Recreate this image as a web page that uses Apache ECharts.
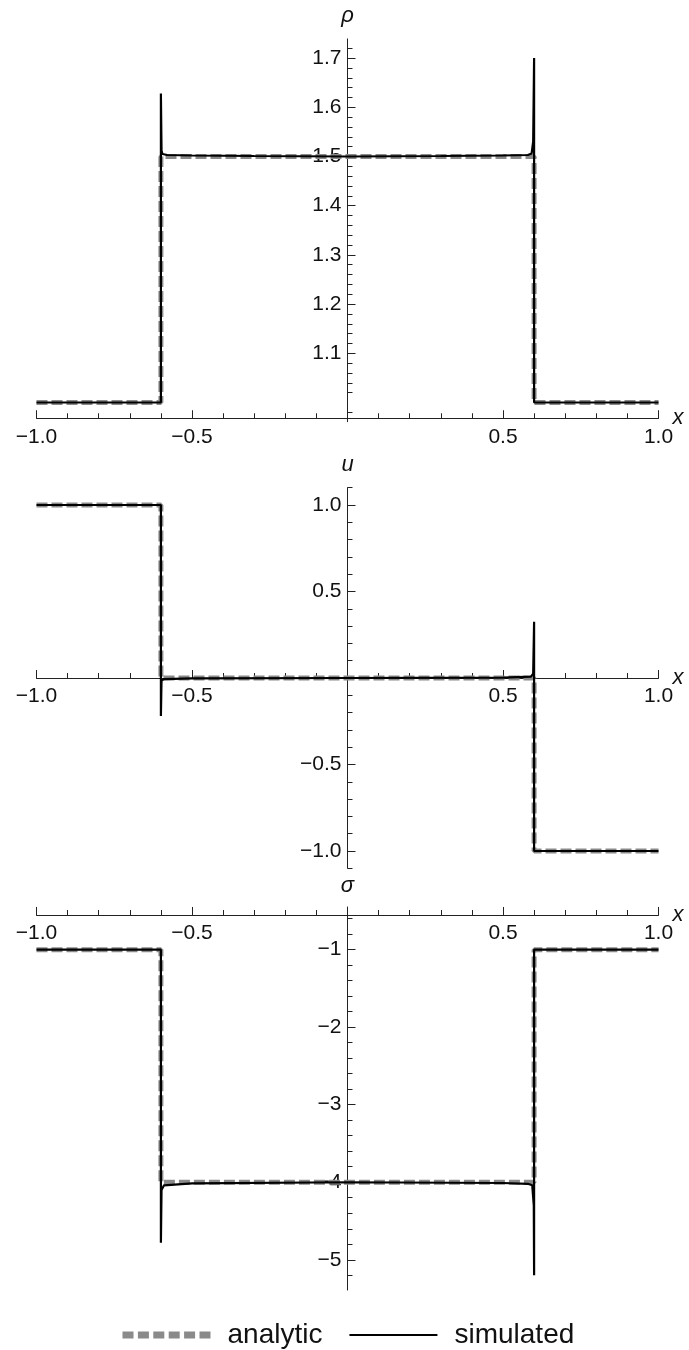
<!DOCTYPE html>
<html>
<head>
<meta charset="utf-8">
<script src="https://cdn.jsdelivr.net/npm/echarts@6.0.0/dist/echarts.min.js"></script>
<style>
  html, body { margin: 0; padding: 0; background: #fff; }
  #chart { width: 689px; height: 1350px; }
</style>
</head>
<body>
<div id="chart"></div>
<script>
// ---- shared x grid ----
const xRange = [-1, 1];

// ---- density rho ----
const rhoAnalyticX = [-1, -0.6, -0.6, 0.6, 0.6, 1];
const rhoAnalytic  = [1.0, 1.0, 1.5, 1.5, 1.0, 1.0];
const rhoSimX = [-1, -0.6, -0.6, -0.598, -0.595, -0.58, -0.5, -0.3, 0, 0.3, 0.5, 0.58, 0.592, 0.597, 0.6, 0.6, 1];
const rhoSim  = [1.0, 1.0, 1.628, 1.512, 1.505, 1.503, 1.502, 1.501, 1.5, 1.501, 1.502, 1.503, 1.506, 1.53, 1.70, 1.0, 1.0];
const rhoTicks = [1.1, 1.2, 1.3, 1.4, 1.5, 1.6, 1.7];

// ---- velocity u ----
const uAnalyticX = [-1, -0.6, -0.6, 0.6, 0.6, 1];
const uAnalytic  = [1, 1, 0, 0, -1, -1];
const uSimX = [-1, -0.6, -0.6, -0.598, -0.59, -0.5, 0, 0.5, 0.59, 0.597, 0.6, 0.6, 1];
const uSim  = [1, 1, -0.22, -0.015, -0.006, -0.002, 0, 0.002, 0.008, 0.025, 0.325, -1, -1];
const uTicks = [-1.0, -0.5, 0.5, 1.0];

// ---- stress sigma ----
const sigmaAnalyticX = [-1, -0.6, -0.6, 0.6, 0.6, 1];
const sigmaAnalytic  = [-1, -1, -4, -4, -1, -1];
const sigmaSimX = [-1, -0.6, -0.6, -0.598, -0.59, -0.5, 0, 0.5, 0.58, 0.594, 0.599, 0.6, 0.6, 1];
const sigmaSim  = [-1, -1, -4.78, -4.1, -4.04, -4.015, -4.0, -4.01, -4.02, -4.04, -4.3, -5.2, -1, -1];
const sigmaTicks = [-5, -4, -3, -2, -1];

const FONT = '"Liberation Sans", Arial, sans-serif';
const AXIS_COLOR = '#222';
const ANALYTIC_COLOR = '#8a8a8a';

// plot area geometry (pixels)
const GRID_LEFT = 36.5, GRID_RIGHT = 30.5, CHART_W = 689;
const GRID_W = CHART_W - GRID_LEFT - GRID_RIGHT;
// shift that puts the vertical axis at x = 0
const Y_AXIS_SHIFT = -GRID_W * (0 - xRange[0]) / (xRange[1] - xRange[0]);

function pairs(xs, ys) { return xs.map((x, i) => [x, ys[i]]); }

// minor tick positions between lo and hi with given step, skipping majors
function minorValues(lo, hi, step, majorStep) {
  const out = [];
  const n0 = Math.ceil(lo / step - 1e-9), n1 = Math.floor(hi / step + 1e-9);
  for (let n = n0; n <= n1; n++) {
    const v = +(n * step).toFixed(6);
    const r = v / majorStep;
    if (Math.abs(r - Math.round(r)) > 1e-6) out.push(v);
  }
  return out;
}

function fmt(v, digits) {
  return v.toFixed(digits).replace('-', '\u2212');
}

const panels = [
  { name: '\u03c1', top: 38.9, height: 382.8, min: 0.961, max: 1.739,
    ticks: rhoTicks, minor: minorValues(0.961, 1.739, 0.02, 0.1), digits: 1,
    xPos: 'bottom', xAt: 0.968, nameGap: 12,
    ana: pairs(rhoAnalyticX, rhoAnalytic), sim: pairs(rhoSimX, rhoSim) },
  { name: 'u', top: 487.7, height: 380.6, min: -1.1, max: 1.1,
    ticks: uTicks, minor: minorValues(-1.1, 1.1, 0.1, 0.5).concat([0]), digits: 1,
    xPos: 'bottom', xAt: 0, nameGap: 12,
    ana: pairs(uAnalyticX, uAnalytic), sim: pairs(uSimX, uSim) },
  { name: '\u03c3', top: 907, height: 383, min: -5.39, max: -0.45,
    ticks: sigmaTicks, minor: minorValues(-5.39, -0.45, 0.2, 1), digits: 0,
    xPos: 'top', xAt: -0.553, nameGap: 10,
    ana: pairs(sigmaAnalyticX, sigmaAnalytic), sim: pairs(sigmaSimX, sigmaSim) }
];

const grid = [], xAxis = [], yAxis = [], series = [];

panels.forEach((p, i) => {
  grid.push({ left: GRID_LEFT, right: GRID_RIGHT, top: p.top, height: p.height,
              containLabel: false, outerBoundsMode: 'none' });

  // distance of the horizontal axis from the grid edge it is attached to
  const span = p.max - p.min;
  const xShift = p.xPos === 'bottom'
    ? -p.height * (p.xAt - p.min) / span
    : -p.height * (p.max - p.xAt) / span;

  xAxis.push({
    type: 'value', gridIndex: i, min: xRange[0], max: xRange[1], interval: 0.5,
    position: p.xPos, offset: xShift,
    name: 'x', nameLocation: 'end', nameGap: 14, nameMoveOverlap: false,
    nameTextStyle: { fontFamily: FONT, fontSize: 22, fontStyle: 'italic', color: '#111',
                     verticalAlign: 'middle', padding: [8, 0, 0, 0] },
    axisLine: { show: true, onZero: false, lineStyle: { color: AXIS_COLOR, width: 1 } },
    axisTick: { show: true, inside: p.xPos === 'bottom', length: 8, lineStyle: { color: AXIS_COLOR } },
    minorTick: { show: true, splitNumber: 5, length: 5, lineStyle: { color: AXIS_COLOR } },
    axisLabel: { show: true, inside: p.xPos === 'top', margin: 8, fontFamily: FONT, fontSize: 21, color: '#111',
                 formatter: v => (Math.abs(v) < 1e-9 ? '' : fmt(v, 1)) },
    splitLine: { show: false }, minorSplitLine: { show: false }
  });

  // main vertical axis: line, major ticks, labels, name
  yAxis.push({
    type: 'value', gridIndex: i, min: p.min, max: p.max, position: 'left', offset: Y_AXIS_SHIFT,
    name: p.name, nameLocation: 'end', nameGap: p.nameGap, nameMoveOverlap: false,
    nameTextStyle: { fontFamily: FONT, fontSize: 22, fontStyle: 'italic', color: '#111', align: 'center' },
    axisLine: { show: true, onZero: false, lineStyle: { color: AXIS_COLOR, width: 1 } },
    axisTick: { show: true, inside: true, length: 8, customValues: p.ticks, lineStyle: { color: AXIS_COLOR } },
    axisLabel: { show: true, margin: 6, fontFamily: FONT, fontSize: 21, color: '#111',
                 customValues: p.ticks, formatter: v => fmt(v, p.digits) },
    splitLine: { show: false }
  });
  // companion vertical axis carrying the minor ticks
  yAxis.push({
    type: 'value', gridIndex: i, min: p.min, max: p.max, position: 'left', offset: Y_AXIS_SHIFT,
    axisLine: { show: false, onZero: false },
    axisTick: { show: true, inside: true, length: 5, customValues: p.minor, lineStyle: { color: AXIS_COLOR } },
    axisLabel: { show: false },
    splitLine: { show: false }
  });

  series.push({
    name: 'analytic', type: 'line', xAxisIndex: i, yAxisIndex: 2 * i,
    data: p.ana, symbol: 'none', smooth: false,
    lineStyle: { color: ANALYTIC_COLOR, width: 5, type: [11, 4] },
    itemStyle: { color: ANALYTIC_COLOR }, z: 2
  });
  series.push({
    name: 'simulated', type: 'line', xAxisIndex: i, yAxisIndex: 2 * i,
    data: p.sim, symbol: 'none', smooth: false,
    lineStyle: { color: '#000', width: 2.2 },
    itemStyle: { color: '#000' }, z: 3
  });
});

const chart = echarts.init(document.getElementById('chart'), null, { renderer: 'canvas' });
chart.setOption({
  animation: false,
  backgroundColor: '#fff',
  textStyle: { fontFamily: FONT },
  grid, xAxis, yAxis, series,
  legend: {
    data: [
      { name: 'analytic', lineStyle: { color: ANALYTIC_COLOR, width: 7, type: [11, 4.4], cap: 'butt' } },
      { name: 'simulated', lineStyle: { color: '#000', width: 2 } }
    ],
    left: 114, top: 1316,
    itemWidth: 88, itemHeight: 12, itemGap: 26,
    itemStyle: { opacity: 0 },
    textStyle: { fontFamily: FONT, fontSize: 28, color: '#111', padding: [0, 0, 0, 12] },
    selectedMode: false
  }
});
</script>
</body>
</html>
